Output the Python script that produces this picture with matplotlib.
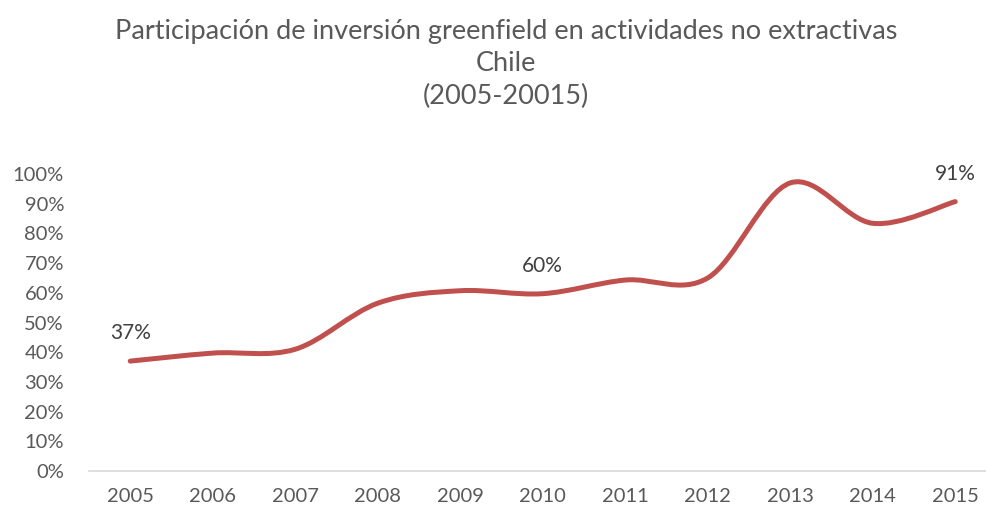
import matplotlib.pyplot as plt
from matplotlib.path import Path
from matplotlib.patches import PathPatch
from matplotlib.ticker import PercentFormatter

plt.rcParams['font.family'] = ['Lato', 'DejaVu Sans']

# Data
years = ['2005', '2006', '2007', '2008', '2009', '2010',
         '2011', '2012', '2013', '2014', '2015']
share = [0.37, 0.397, 0.41, 0.565, 0.607, 0.597,
         0.643, 0.65, 0.97, 0.834, 0.907]
labelled = ['2005', '2010', '2015']

line_color = '#C0504D'
text_color = '#595959'

fig = plt.figure(figsize=(9.87, 5.14), dpi=100)
ax = fig.add_axes([89 / 987, 1 - 471 / 514, 907.5 / 987, 297 / 514])

# Excel-style smoothed line: cubic Bezier through each point
x = list(range(len(share)))
pts = list(zip(x, share))
verts = [pts[0]]
codes = [Path.MOVETO]
n = len(pts)
for i in range(n - 1):
    p0 = pts[max(i - 1, 0)]
    p1 = pts[i]
    p2 = pts[i + 1]
    p3 = pts[min(i + 2, n - 1)]
    c1 = (p1[0] + (p2[0] - p0[0]) / 6, p1[1] + (p2[1] - p0[1]) / 6)
    c2 = (p2[0] - (p3[0] - p1[0]) / 6, p2[1] - (p3[1] - p1[1]) / 6)
    verts += [c1, c2, p2]
    codes += [Path.CURVE4] * 3
ax.add_patch(PathPatch(Path(verts, codes), facecolor='none',
                       edgecolor=line_color, lw=3.6, capstyle='round',
                       joinstyle='round'))

for i, yr in enumerate(years):
    if yr in labelled:
        ax.annotate(f'{share[i]:.0%}', (i, share[i]), xytext=(0, 13),
                    textcoords='offset points', ha='center', va='bottom',
                    fontsize=15, color='#404040')

ax.set_xlim(-0.5, len(years) - 0.5)
ax.set_ylim(0, 1)
ax.set_xticks(x)
ax.set_xticklabels(years)
ax.set_yticks([i / 10 for i in range(11)])
ax.yaxis.set_major_formatter(PercentFormatter(1.0, decimals=0))
ax.tick_params(axis='both', length=0, labelsize=14.5, labelcolor=text_color)
ax.tick_params(axis='y', pad=18)
ax.tick_params(axis='x', pad=12)

for side in ['top', 'right', 'left']:
    ax.spines[side].set_visible(False)
ax.spines['bottom'].set_color('#D9D9D9')
ax.spines['bottom'].set_linewidth(1.2)

fig.text(506 / 987, 1 - 64 / 514,
         'Participación de inversión greenfield en actividades no extractivas\nChile\n(2005-20015)',
         ha='center', va='center', fontsize=19.5, color=text_color, linespacing=1.36)

fig.savefig('out.png', dpi=100)
